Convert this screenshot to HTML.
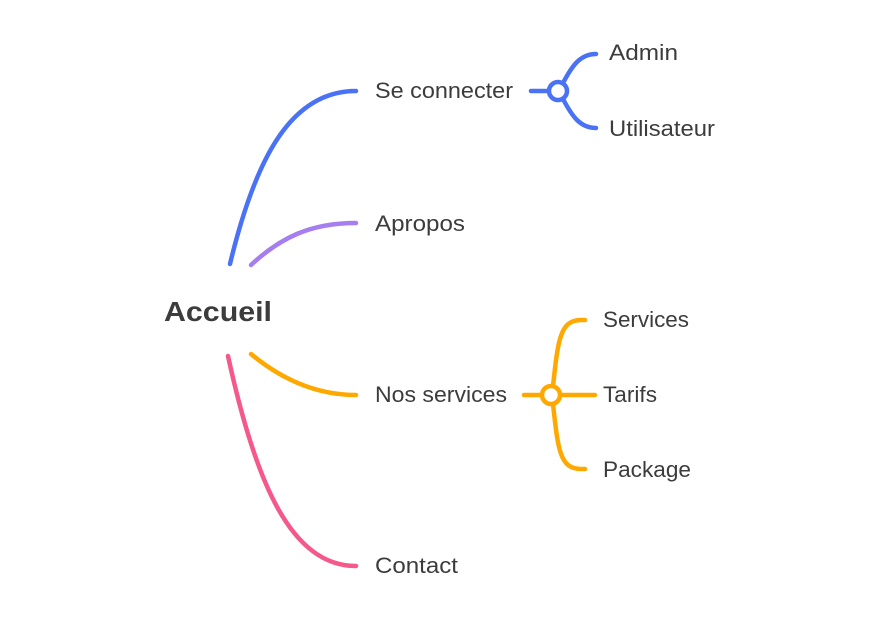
<html><body style="margin:0;background:#fff;width:886px;height:633px;overflow:hidden">
<svg width="886" height="633" xmlns="http://www.w3.org/2000/svg" style="position:absolute;left:0;top:0">
<g fill="none" stroke-width="4.5" stroke-linecap="round">
<path d="M230 264 C255 160 290 91 356 91" stroke="#4a72f5"/>
<path d="M251 265 C280 238 310 223 356 223" stroke="#a57ef0"/>
<path d="M251 354 C280 378 315 395 356 395" stroke="#ffa800"/>
<path d="M228 356 C255 480 290 566 356 566" stroke="#f5588a"/>
<path d="M531 91 H549" stroke="#4a72f5"/>
<path d="M563 83 C572 66 580 54 596 54" stroke="#4a72f5"/>
<path d="M563 99 C572 116 580 128 596 128" stroke="#4a72f5"/>
<circle cx="558" cy="91" r="9" stroke="#4a72f5" fill="#fff"/>
<path d="M524 395 H542 M560 395 H595" stroke="#ffa800"/>
<path d="M553 386 C558 340 560 320 581 320 L585 320" stroke="#ffa800"/>
<path d="M553 404 C558 450 560 469 581 469 L585 469" stroke="#ffa800"/>
<circle cx="551" cy="395" r="9" stroke="#ffa800" fill="#fff"/>
</g>
<g font-family="Liberation Sans, sans-serif" font-size="22" fill="#3c3c3c" lengthAdjust="spacingAndGlyphs">
<text x="164" y="321" font-size="28" font-weight="bold" textLength="108" lengthAdjust="spacingAndGlyphs">Accueil</text>
<text x="375" y="98" textLength="138" lengthAdjust="spacingAndGlyphs">Se connecter</text>
<text x="609" y="60" textLength="69" lengthAdjust="spacingAndGlyphs">Admin</text>
<text x="609" y="136" textLength="106" lengthAdjust="spacingAndGlyphs">Utilisateur</text>
<text x="375" y="231" textLength="90" lengthAdjust="spacingAndGlyphs">Apropos</text>
<text x="375" y="402" textLength="132" lengthAdjust="spacingAndGlyphs">Nos services</text>
<text x="603" y="327" textLength="86" lengthAdjust="spacingAndGlyphs">Services</text>
<text x="603" y="402" textLength="54" lengthAdjust="spacingAndGlyphs">Tarifs</text>
<text x="603" y="477" textLength="88" lengthAdjust="spacingAndGlyphs">Package</text>
<text x="375" y="573" textLength="83" lengthAdjust="spacingAndGlyphs">Contact</text>
</g>
</svg>
</body></html>
